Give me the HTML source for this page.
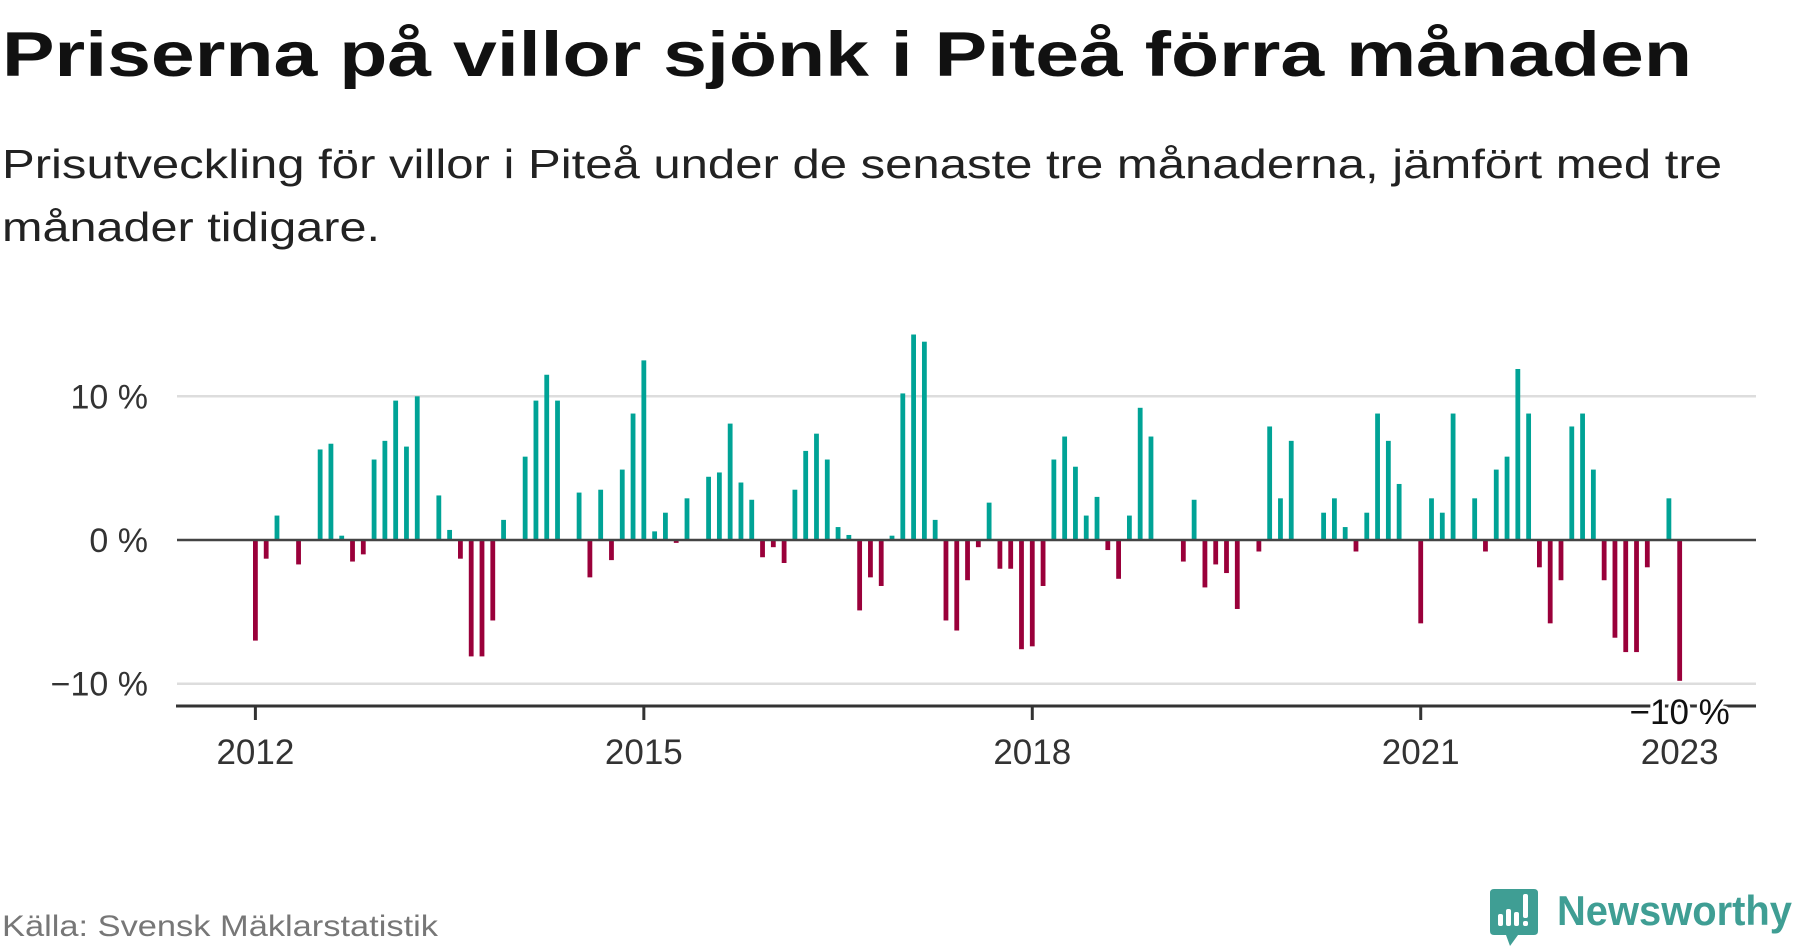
<!DOCTYPE html>
<html><head><meta charset="utf-8"><style>
html,body{margin:0;padding:0;background:#fff;}
body{width:1800px;height:948px;overflow:hidden;position:relative;font-family:"Liberation Sans",sans-serif;}
svg{position:absolute;left:0;top:0;}
</style></head><body>
<svg width="1800" height="948" viewBox="0 0 1800 948">
<text x="2" y="76" font-size="63" font-weight="bold" fill="#111" textLength="1690" lengthAdjust="spacingAndGlyphs">Priserna på villor sjönk i Piteå förra månaden</text>
<text x="2" y="178" font-size="41" fill="#222" textLength="1720" lengthAdjust="spacingAndGlyphs">Prisutveckling för villor i Piteå under de senaste tre månaderna, jämfört med tre</text>
<text x="2" y="241" font-size="41" fill="#222" textLength="378" lengthAdjust="spacingAndGlyphs">månader tidigare.</text>
<g id="grid"></g>
<g id="bars"></g>
<g id="axes"></g>
<text x="2" y="936" font-size="30" fill="#777" textLength="436" lengthAdjust="spacingAndGlyphs">Källa: Svensk Mäklarstatistik</text>
<g>
<path d="M1494 889 H1534 Q1538 889 1538 893 V931 Q1538 935 1534 935 H1518 L1510 946 L1506 935 H1494 Q1490 935 1490 931 V893 Q1490 889 1494 889 Z" fill="#3f9e94"/>
<rect x="1498" y="914" width="5" height="12" rx="2" fill="#fff"/>
<rect x="1506" y="909" width="5" height="17" rx="2" fill="#fff"/>
<rect x="1514" y="912" width="5" height="14" rx="2" fill="#fff"/>
<rect x="1523" y="894" width="5" height="24" rx="2" fill="#fff"/>
<rect x="1523" y="921" width="5" height="5" rx="2" fill="#fff"/>
<text x="1557" y="925" font-size="42" font-weight="bold" fill="#3f9e94" textLength="235" lengthAdjust="spacingAndGlyphs">Newsworthy</text>
</g>
</svg>
<script>
const startYear = 2012;
const values = [
-7.0,-1.3,1.7,null,-1.7,null,6.3,6.7,0.3,-1.5,-1.0,5.6,
6.9,9.7,6.5,10.0,null,3.1,0.7,-1.3,-8.1,-8.1,-5.6,1.4,
null,5.8,9.7,11.5,9.7,null,3.3,-2.6,3.5,-1.4,4.9,8.8,
12.5,0.6,1.9,-0.2,2.9,null,4.4,4.7,8.1,4.0,2.8,-1.2,
-0.5,-1.6,3.5,6.2,7.4,5.6,0.9,0.35,-4.9,-2.6,-3.2,0.3,
10.2,14.3,13.8,1.4,-5.6,-6.3,-2.8,-0.5,2.6,-2.0,-2.0,-7.6,
-7.4,-3.2,5.6,7.2,5.1,1.7,3.0,-0.7,-2.7,1.7,9.2,7.2,
null,null,-1.5,2.8,-3.3,-1.7,-2.3,-4.8,null,-0.8,7.9,2.9,
6.9,null,null,1.9,2.9,0.9,-0.8,1.9,8.8,6.9,3.9,null,
-5.8,2.9,1.9,8.8,null,2.9,-0.8,4.9,5.8,11.9,8.8,-1.9,
-5.8,-2.8,7.9,8.8,4.9,-2.8,-6.8,-7.8,-7.8,-1.9,null,2.9,
-9.8
];
const yTicks = [10, 0, -10];
const yTickLabels = ["10 %", "0 %", "\u221210 %"];
const xTicks = [2012, 2015, 2018, 2021, 2023];
const lastLabel = "\u221210 %";

const NS = "http://www.w3.org/2000/svg";
const X0 = 255.4, DX = 10.79, Y0 = 540, DY = 14.37;
function x(i){ return X0 + i*DX; }
function y(v){ return Y0 - v*DY; }
function mk(tag, attrs){ const e=document.createElementNS(NS,tag); for(const k in attrs) e.setAttribute(k,attrs[k]); return e; }

const grid=document.getElementById('grid'), bars=document.getElementById('bars'), axes=document.getElementById('axes');
yTicks.forEach((t,k)=>{
  if(t!==0){
    const l=mk('line',{x1:177,x2:1756,y1:y(t),y2:y(t),stroke:'#ddd','stroke-width':2.5});
    
    
    grid.appendChild(l);
  }
  const tx=mk('text',{x:148,y:y(t)+12,'font-size':34,fill:'#333','text-anchor':'end'});
  tx.textContent=yTickLabels[k];
  
  
  grid.appendChild(tx);
});
values.forEach((v,i)=>{
  if(v===null) return;
  const top=Math.min(y(v),Y0), h=Math.abs(y(v)-Y0);
  const r=mk('rect',{x:x(i)-2.4,y:top,width:4.8,height:h,fill:v>=0?'#00a396':'#9a003a'});
  
  
  bars.appendChild(r);
});
const zl=mk('line',{x1:177,x2:1756,y1:Y0,y2:Y0,stroke:'#444','stroke-width':2.6});


axes.appendChild(zl);
const ax=mk('line',{x1:176,x2:1756,y1:706,y2:706,stroke:'#333','stroke-width':3});


axes.appendChild(ax);
xTicks.forEach(yr=>{
  const i=(yr-startYear)*12;
  if(yr!==2023){
    const tk=mk('line',{x1:x(i),x2:x(i),y1:706,y2:720,stroke:'#333','stroke-width':3});
    
    
    axes.appendChild(tk);
  }
  const t=mk('text',{x:x(i),y:764,'font-size':35,fill:'#333','text-anchor':'middle'});
  t.textContent=yr;
  
  
  axes.appendChild(t);
});
const li=values.length-1;
const lb=mk('text',{x:x(li),y:724,'font-size':35,fill:'#111','text-anchor':'middle',stroke:'#fff','stroke-width':6,'paint-order':'stroke'});
lb.textContent=lastLabel;


axes.appendChild(lb);
</script>
</body></html>
